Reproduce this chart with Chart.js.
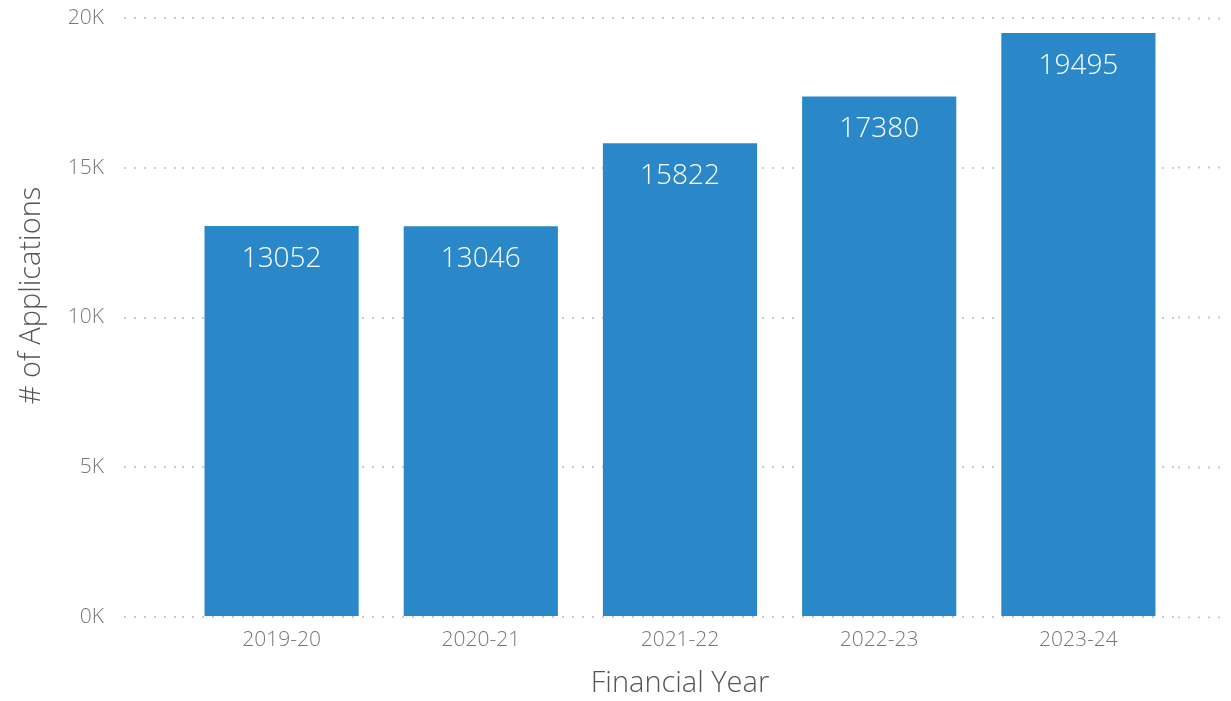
<!DOCTYPE html>
<html>
<head>
<meta charset="utf-8">
<script src="https://cdn.jsdelivr.net/npm/chart.js@4"></script>
<style>
  html, body { margin: 0; padding: 0; background: #fff; }
  #wrap { width: 1231px; height: 701px; }
</style>
</head>
<body>
<div id="wrap"><canvas id="appsChart" width="1231" height="701"></canvas></div>
<script>
// Applications per financial year
const years = ["2019-20", "2020-21", "2021-22", "2022-23", "2023-24"];
const applications = [13052, 13046, 15822, 17380, 19495];
const yTicks = [0, 5000, 10000, 15000, 20000];
const yTitle = "# of Applications";

const FONT = '"Segoe UI", "Open Sans", sans-serif';
const GRID_COLOR = '#cccccc';

// white value labels inside the top of each bar
const valueLabels = {
    id: 'valueLabels',
    afterDatasetsDraw(chart) {
        const ctx = chart.ctx;
        const meta = chart.getDatasetMeta(0);
        ctx.save();
        ctx.fillStyle = '#ffffff';
        ctx.font = '300 28px ' + FONT;
        ctx.textAlign = 'center';
        ctx.textBaseline = 'middle';
        meta.data.forEach((bar, i) => {
            ctx.fillText(String(applications[i]), bar.x, bar.y + 33);
        });
        ctx.restore();
    }
};

// y axis title, sits a bit above the middle of the plot like the original
const yAxisTitle = {
    id: 'yAxisTitle',
    afterDraw(chart) {
        const ctx = chart.ctx;
        const area = chart.chartArea;
        ctx.save();
        ctx.translate(32, (area.top + area.bottom) / 2 - 22);
        ctx.rotate(-Math.PI / 2);
        ctx.fillStyle = '#555';
        ctx.font = '300 29px ' + FONT;
        ctx.textAlign = 'center';
        ctx.textBaseline = 'middle';
        ctx.fillText(yTitle, 0, 0);
        ctx.restore();
    }
};

new Chart(document.getElementById('appsChart'), {
    type: 'bar',
    data: {
        labels: years,
        datasets: [{
            label: yTitle,
            data: applications,
            backgroundColor: '#2b88c8',
            categoryPercentage: 1,
            barPercentage: 0.774
        }]
    },
    options: {
        responsive: false,
        animation: false,
        layout: { padding: { top: 18, left: 0, right: 0, bottom: 0 } },
        plugins: {
            legend: { display: false },
            tooltip: { enabled: false }
        },
        scales: {
            x: {
                grid: { display: false },
                border: { display: false },
                ticks: { color: '#777', font: { family: FONT, size: 21, weight: 300 }, padding: 2 },
                title: {
                    display: true,
                    text: 'Financial Year',
                    color: '#555',
                    font: { family: FONT, size: 29, weight: 300 },
                    padding: { top: 2, bottom: 0 }
                },
                afterFit(scale) { scale.height = 84; }
            },
            y: {
                min: 0,
                max: 20000,
                afterBuildTicks(scale) { scale.ticks = yTicks.map(v => ({ value: v })); },
                border: { display: false, dash: [2, 8] },
                grid: {
                    color: GRID_COLOR,
                    lineWidth: 2,
                    drawTicks: true,
                    tickLength: 58,
                    tickColor: GRID_COLOR,
                    tickBorderDash: [2, 8],
                    tickWidth: 2
                },
                ticks: {
                    color: '#777',
                    font: { family: FONT, size: 21, weight: 300 },
                    padding: 20,
                    callback: v => (v / 1000) + 'K'
                },
                afterFit(scale) {
                    scale.width = 182;
                    scale.paddingTop = 0;
                    scale.paddingBottom = 0;
                }
            },
            yRight: {
                position: 'right',
                min: 0,
                max: 20000,
                afterBuildTicks(scale) { scale.ticks = yTicks.map(v => ({ value: v })); },
                border: { display: false },
                grid: {
                    drawOnChartArea: false,
                    drawTicks: true,
                    tickLength: 44,
                    tickColor: GRID_COLOR,
                    tickBorderDash: [2, 8],
                    tickWidth: 2
                },
                ticks: { display: false },
                afterFit(scale) {
                    scale.width = 53;
                    scale.paddingTop = 0;
                    scale.paddingBottom = 0;
                }
            }
        }
    },
    plugins: [valueLabels, yAxisTitle]
});
</script>
</body>
</html>
